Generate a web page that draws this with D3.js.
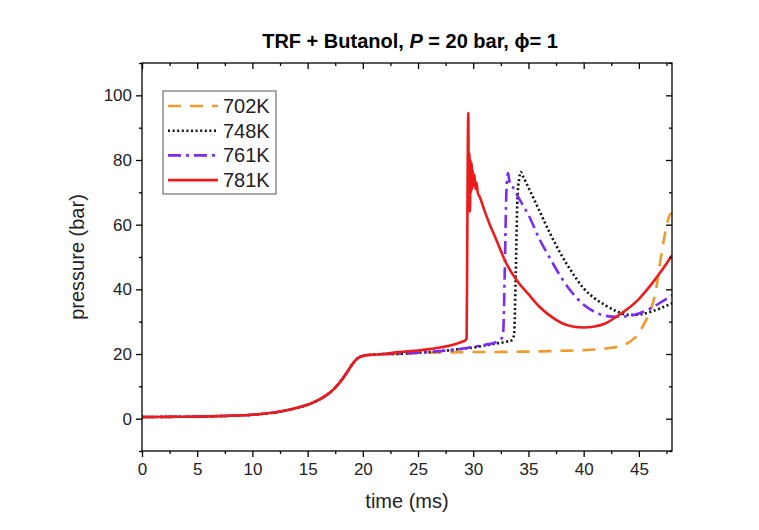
<!DOCTYPE html>
<html>
<head>
<meta charset="utf-8">
<script src="https://cdn.jsdelivr.net/npm/d3@7"></script>
<style>
    body { margin: 0; background: #fff; }
    svg { font-family: Arial, "Liberation Sans", sans-serif; }
    .axis path, .axis line { stroke: #000; stroke-width: 1.3px; }
    .axis text { font-size: 17px; fill: #222; }
</style>
</head>
<body>
<div id="chart"></div>
<script>

// compression stroke, shared by all four runs
var compTime = [0, 2, 4, 6, 8, 10, 11, 12, 13, 14, 15, 15.5, 16, 16.5, 17, 17.5, 18, 18.5, 19, 19.5, 20, 20.5, 21, 22];
var compPressure = [0.5, 0.55, 0.6, 0.7, 0.9, 1.2, 1.5, 1.9, 2.5, 3.3, 4.3, 5.0, 5.8, 6.8, 8.0, 9.6, 11.6, 14.0, 16.6, 18.6, 19.4, 19.7, 19.8, 20.0];

var time702 = [23, 24, 25, 26, 28, 30, 32, 34, 36, 38, 40, 41, 42, 43, 43.5, 44, 44.5, 45, 45.5, 46, 46.5, 47, 47.3, 47.6, 47.8, 48];
var pres702 = [20.0, 20.2, 20.3, 20.4, 20.5, 20.6, 20.6, 20.7, 20.8, 21.0, 21.2, 21.4, 21.7, 22.2, 22.7, 23.4, 24.6, 26.5, 29.5, 33, 39, 50, 56, 61, 63, 63.5];

var time748 = [23, 24, 25, 26, 27, 28, 29, 30, 31, 32, 33, 33.5, 33.7, 33.85, 34.0, 34.15, 34.3, 34.5, 35, 36, 37, 38, 39, 40, 41, 42, 43, 44, 45, 46, 47, 48];
var pres748 = [20.0, 20.2, 20.4, 20.6, 20.9, 21.2, 21.6, 22.0, 22.6, 23.2, 23.8, 24.3, 26, 45, 68, 74, 76.3, 75, 71.5, 64.2, 57, 50.5, 45, 40.3, 37.2, 35, 33.2, 32.1, 32.2, 33, 34.2, 35.7];

var time761 = [23, 24, 25, 26, 27, 28, 29, 30, 31, 32, 32.5, 32.7, 32.85, 33.0, 33.15, 33.25, 33.4, 33.6, 34, 34.5, 35, 36, 37, 38, 39, 40, 41, 42, 43, 44, 45, 46, 47, 48];
var pres761 = [20.0, 20.2, 20.4, 20.6, 20.9, 21.2, 21.6, 22.2, 22.8, 23.6, 24.5, 26, 45, 70, 76, 74, 72, 71.5, 69, 66, 63, 55.5, 49.3, 43.5, 38.8, 35.2, 33, 31.8, 31.5, 31.7, 32.5, 34, 36, 38.2];

var time781 = [23, 24, 25, 26, 27, 28, 28.5, 29, 29.3, 29.4, 29.45, 29.5, 29.55, 29.6, 29.65, 29.7, 29.75, 29.8, 29.85, 29.9, 29.95, 30.0, 30.1, 30.2, 30.3, 30.4, 30.6, 31, 31.5, 32, 33, 34, 35, 36, 37, 38, 39, 40, 41, 42, 43, 44, 45, 46, 47, 48];
var pres781 = [20.5, 20.8, 21.1, 21.5, 22.0, 22.7, 23.2, 23.8, 24.3, 25, 50, 80, 94.5, 66, 82, 64, 80, 70, 79, 71, 77, 72, 75.5, 71, 73, 70, 68.5, 64.5, 60, 56, 48, 42.5, 38.5, 34.6, 31.7, 29.6, 28.5, 28.2, 28.5, 29.5, 31.6, 34, 37, 41, 45.5, 50.5];

var seriesNames = ["702K", "748K", "761K", "781K"];
var seriesColors = ["#EE9A2C", "#111111", "#7A2CF0", "#EC1C1C"];
var seriesDashes = ["13,9", "2,2.6", "13,5,3,5", null];

var xMajor = [0, 5, 10, 15, 20, 25, 30, 35, 40, 45];
var yMajor = [0, 20, 40, 60, 80, 100];

function drawPressureChart(divName) {

    var margin = {top: 63, right: 87, bottom: 79, left: 142}
        , width = 759 - margin.left - margin.right
        , height = 530 - margin.top - margin.bottom;

    var x = d3.scaleLinear().domain([0, 48]).range([0, width]);
    var y = d3.scaleLinear().domain([-10, 110]).range([height, 0]);

    var xMinor = d3.range(0, 48.01, 2.5).filter(function (v) { return v % 5 != 0; });
    var yMinor = d3.range(-10, 110.01, 10).filter(function (v) { return v % 20 != 0; });

    var tails = [[time702, pres702], [time748, pres748], [time761, pres761], [time781, pres781]];
    var data = seriesNames.map(function (name, i) {
        var t = compTime.concat(tails[i][0]);
        var p = compPressure.concat(tails[i][1]);
        return {
            name: name,
            color: seriesColors[i],
            dash: seriesDashes[i],
            points: t.map(function (v, j) { return [v, p[j]]; })
        };
    });

    var chart = d3.select('#' + divName)
        .append('svg')
        .attr('width', 759)
        .attr('height', 530);

    var main = chart.append('g')
        .attr('transform', 'translate(' + margin.left + ',' + margin.top + ')');

    main.append('clipPath').attr('id', 'plotClip')
        .append('rect').attr('width', width).attr('height', height);

    // curves
    var line = d3.line()
        .x(function (d) { return x(d[0]); })
        .y(function (d) { return y(d[1]); })
        .curve(d3.curveMonotoneX);

    main.append('g')
        .attr('clip-path', 'url(#plotClip)')
        .selectAll('path')
        .data(data)
        .enter().append('path')
        .attr('d', function (d) { return line(d.points); })
        .style('fill', 'none')
        .style('stroke', function (d) { return d.color; })
        .style('stroke-width', '2.6px')
        .style('stroke-dasharray', function (d) { return d.dash; })
        .style('stroke-linejoin', 'round');

    // axes: major + minor, outside on bottom/left, mirrored inside on top/right
    main.append('g').attr('class', 'axis')
        .attr('transform', 'translate(0,' + height + ')')
        .call(d3.axisBottom(x).tickValues(xMajor).tickSize(6).tickPadding(6).tickFormat(d3.format('d')));
    main.append('g').attr('class', 'axis')
        .attr('transform', 'translate(0,' + height + ')')
        .call(d3.axisBottom(x).tickValues(xMinor).tickSize(3).tickFormat(''));
    main.append('g').attr('class', 'axis')
        .call(d3.axisBottom(x).tickValues(xMajor).tickSize(6).tickFormat(''));
    main.append('g').attr('class', 'axis')
        .call(d3.axisBottom(x).tickValues(xMinor).tickSize(3).tickFormat(''));

    main.append('g').attr('class', 'axis')
        .call(d3.axisLeft(y).tickValues(yMajor).tickSize(6).tickPadding(4).tickFormat(d3.format('d')));
    main.append('g').attr('class', 'axis')
        .call(d3.axisLeft(y).tickValues(yMinor).tickSize(3).tickFormat(''));
    main.append('g').attr('class', 'axis')
        .attr('transform', 'translate(' + width + ',0)')
        .call(d3.axisLeft(y).tickValues(yMajor).tickSize(6).tickFormat(''));
    main.append('g').attr('class', 'axis')
        .attr('transform', 'translate(' + width + ',0)')
        .call(d3.axisLeft(y).tickValues(yMinor).tickSize(3).tickFormat(''));

    main.selectAll('.axis path.domain').attr('d', null);
    main.append('rect')
        .attr('width', width)
        .attr('height', height)
        .style('fill', 'none')
        .style('stroke', '#000')
        .style('stroke-width', '1.3px');

    // titles
    var title = chart.append('text')
        .attr('x', margin.left + width / 2 + 3)
        .attr('y', 48)
        .attr('text-anchor', 'middle')
        .style('font-size', '20px')
        .style('font-weight', 'bold');
    title.append('tspan').text('TRF + Butanol, ');
    title.append('tspan').style('font-style', 'italic').text('P');
    title.append('tspan').text(' = 20 bar, \u03D5= 1');

    chart.append('text')
        .attr('x', margin.left + width / 2)
        .attr('y', 508)
        .attr('text-anchor', 'middle')
        .style('font-size', '20px')
        .style('fill', '#222')
        .text('time (ms)');

    chart.append('text')
        .attr('transform', 'translate(84,' + (margin.top + height / 2) + ') rotate(-90)')
        .attr('text-anchor', 'middle')
        .style('font-size', '20px')
        .style('fill', '#222')
        .text('pressure (bar)');

    // legend
    var legend = main.append('g').attr('transform', 'translate(21,28)');
    legend.append('rect')
        .attr('width', 113)
        .attr('height', 103)
        .style('fill', '#fff')
        .style('stroke', '#555')
        .style('stroke-width', '1px');

    var rows = legend.selectAll('g.row')
        .data(data)
        .enter().append('g')
        .attr('class', 'row')
        .attr('transform', function (d, i) { return 'translate(0,' + (15 + i * 24.7) + ')'; });
    rows.append('line')
        .attr('x1', 5).attr('x2', 55)
        .style('stroke', function (d) { return d.color; })
        .style('stroke-width', '2.6px')
        .style('stroke-dasharray', function (d) { return d.dash; });
    rows.append('text')
        .attr('x', 60)
        .attr('y', 7)
        .style('font-size', '20px')
        .style('fill', '#222')
        .text(function (d) { return d.name; });
}

drawPressureChart('chart');
</script>
</body>
</html>
